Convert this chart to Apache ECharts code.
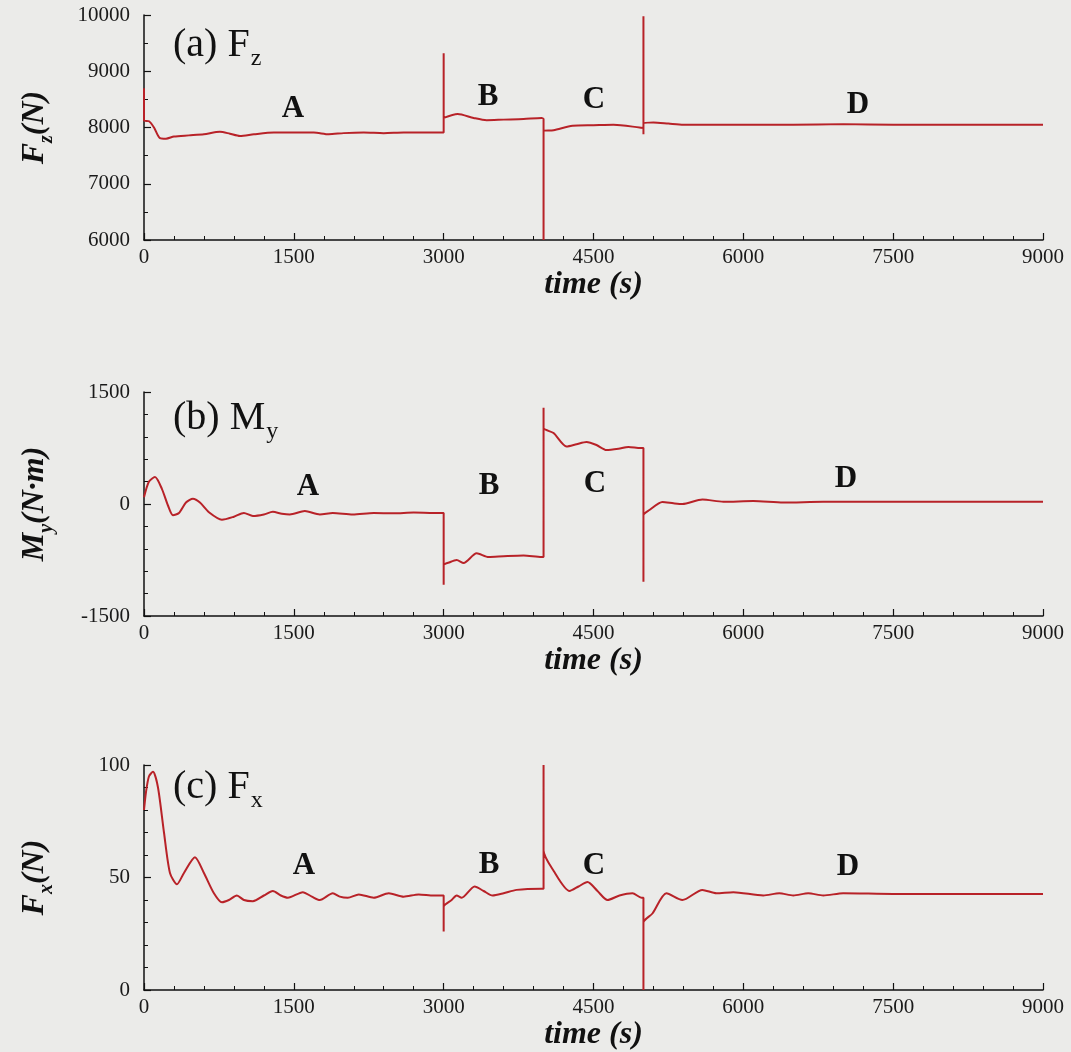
<!DOCTYPE html>
<html>
<head>
<meta charset="utf-8">
<title>Fz / My / Fx</title>
<script src="https://cdn.jsdelivr.net/npm/echarts@6/dist/echarts.min.js"></script>
<style>
html, body { margin: 0; padding: 0; background: #ebebe9; }
#chart { width: 1071px; height: 1052px; }
</style>
</head>
<body>
<div id="chart"></div>
<script>
// (a) Fz, N
const fzTime = [0, 0, 50, 100, 160, 220, 300, 450, 600, 760, 860, 960, 1100, 1300, 1500, 1700, 1850, 2000, 2200, 2400, 2600, 2800, 3000,
  3000, 3000, 3140, 3300, 3430, 3600, 3800, 3980, 4000,
  4000, 4000, 4100, 4290, 4500, 4700, 4960, 5000,
  5000, 5000, 5000, 5100, 5250, 5400, 5700, 6000, 6500, 7000, 7500, 8000, 8500, 9000]
const fzValue = [8700, 8130, 8110, 8000, 7810, 7800, 7840, 7860, 7880, 7925, 7890, 7850, 7880, 7910, 7910, 7910, 7880, 7900, 7910, 7900, 7910, 7910, 7910,
  9320, 8170, 8240, 8170, 8130, 8140, 8150, 8170, 8150,
  6000, 7940, 7950, 8030, 8040, 8050, 8000, 7990,
  9980, 7880, 8080, 8090, 8070, 8050, 8050, 8050, 8050, 8060, 8050, 8050, 8050, 8050]

// (b) My, N·m
const myTime = [0, 50, 110, 180, 240, 290, 350, 420, 490, 560, 650, 780, 900, 1000, 1090, 1200, 1290, 1380, 1460, 1610, 1760, 1890, 2090, 2300, 2500, 2700, 2900, 3000,
  3000, 3000, 3060, 3130, 3200, 3330, 3450, 3600, 3800, 3980, 4000,
  4000, 4000, 4100, 4230, 4330, 4430, 4530, 4630, 4750, 4850, 4970, 5000,
  5000, 5000, 5060, 5190, 5300, 5390, 5590, 5800, 6100, 6400, 6800, 7200, 7600, 8000, 9000]
const myValue = [90, 300, 360, 200, -20, -150, -120, 20, 70, 20, -110, -210, -170, -120, -160, -140, -105, -130, -140, -95, -140, -120, -140, -120, -125, -115, -120, -120,
  -1080, -820, -780, -750, -790, -660, -710, -700, -690, -710, -710,
  1290, 1020, 950, 770, 800, 830, 790, 723, 740, 764, 750, 750,
  -1040, -150, -80, 27, 10, 0, 60, 30, 40, 20, 30, 30, 30, 30, 30]

// (c) Fx, N
const fxTime = [0, 20, 50, 90, 140, 200, 260, 330, 400, 510, 600, 700, 780, 850, 930, 1000, 1090, 1200, 1290, 1370, 1440, 1590, 1680, 1760, 1890, 1960, 2040, 2150, 2300, 2450, 2600, 2750, 2900, 3000,
  3000, 3000, 3080, 3130, 3180, 3310, 3400, 3490, 3600, 3730, 3980, 4000,
  4000, 4000, 4100, 4260, 4350, 4440, 4540, 4640, 4760, 4890, 4980, 5000,
  5000, 5000, 5090, 5230, 5390, 5590, 5730, 5900, 6200, 6360, 6500, 6650, 6800, 7000, 7500, 8000, 9000]
const fxValue = [80, 88, 95, 97, 90, 70, 52, 47, 52, 59, 52, 43, 39, 40, 42, 40, 39.5, 42, 44, 42, 41, 43.5, 41.5, 40, 43, 41.5, 41, 42.5, 41, 43, 41.5, 42.5, 42, 42,
  26, 37, 40, 42, 41, 46, 44, 42, 43, 44.5, 45, 45,
  100, 62, 53, 44, 46, 48, 44, 40, 42, 43, 41, 41,
  0, 30, 34, 43, 40, 44.5, 43, 43.5, 42, 43, 42, 43, 42, 43, 42.7, 42.7, 42.7]

const regionNames = ['A', 'B', 'C', 'D']

const serif = 'Liberation Serif'
const lineColor = '#b82228'

function zip(xs, ys) {
  return xs.map((x, i) => [x, ys[i]])
}

// 三个子图的网格
const grids = [
  { left: 144, width: 899, top: 15, height: 225 },
  { left: 144, width: 899, top: 392, height: 224 },
  { left: 144, width: 899, top: 765, height: 225 }
]

function nameRich(size, subSize, drop) {
  return {
    i: { fontFamily: serif, fontWeight: 'bold', fontStyle: 'italic', fontSize: size, lineHeight: size + 4, verticalAlign: 'top', color: '#111' },
    s: { fontFamily: serif, fontWeight: 'bold', fontStyle: 'italic', fontSize: subSize, lineHeight: subSize, verticalAlign: 'top', padding: [drop, 0, 0, 0], color: '#111' }
  }
}

// 不要千分位
const plain = v => String(v)

function xAxis(idx) {
  return {
    type: 'value',
    gridIndex: idx,
    min: 0,
    max: 9000,
    interval: 1500,
    name: 'time (s)',
    nameLocation: 'middle',
    nameGap: 26,
    nameTextStyle: { fontFamily: serif, fontWeight: 'bold', fontStyle: 'italic', fontSize: 32, color: '#111' },
    axisLine: { onZero: false, lineStyle: { color: '#111', width: 1.5 } },
    axisTick: { inside: true, length: 7, lineStyle: { color: '#111', width: 1.2 } },
    minorTick: { show: true, splitNumber: 5, length: 4, lineStyle: { color: '#111', width: 1 } },
    axisLabel: { fontFamily: serif, fontSize: 21, color: '#1a1a1a', margin: 7, formatter: plain },
    splitLine: { show: false }
  }
}

function yAxis(idx, min, max, interval, minorSplit, name) {
  return {
    type: 'value',
    gridIndex: idx,
    min,
    max,
    interval,
    name,
    nameLocation: 'middle',
    nameRotate: 90,
    nameGap: 89,
    nameTextStyle: { rich: nameRich(32, 20, 18) },
    axisLine: { show: true, onZero: false, lineStyle: { color: '#111', width: 1.5 } },
    axisTick: { inside: true, length: 7, lineStyle: { color: '#111', width: 1.2 } },
    minorTick: { show: true, splitNumber: minorSplit, length: 4, lineStyle: { color: '#111', width: 1 } },
    axisLabel: { fontFamily: serif, fontSize: 21, color: '#1a1a1a', margin: 14, formatter: plain },
    splitLine: { show: false }
  }
}

function seriesOf(idx, xs, ys) {
  return {
    type: 'line',
    xAxisIndex: idx,
    yAxisIndex: idx,
    data: zip(xs, ys),
    showSymbol: false,
    smooth: 0.25,
    lineStyle: { color: lineColor, width: 2 },
    animation: false
  }
}

function panelTitle(letter, main, sub, top) {
  return {
    left: 168,
    top,
    text: '{m|(' + letter + ') ' + main + '}{s|' + sub + '}',
    textStyle: {
      fontWeight: 'normal',
      rich: {
        m: { fontFamily: serif, fontWeight: 'normal', fontSize: 40, lineHeight: 44, verticalAlign: 'top', color: '#111' },
        s: { fontFamily: serif, fontWeight: 'normal', fontSize: 24, lineHeight: 24, verticalAlign: 'top', padding: [22, 0, 0, 1], color: '#111' }
      }
    }
  }
}

// 区段字母 A-D 的位置 (像素)
const letterCenters = [
  [[293, 109], [488, 97], [594, 100], [858, 105]],
  [[308, 487], [489, 486], [595, 484], [846, 479]],
  [[304, 866], [489, 865], [594, 866], [848, 867]]
]

const graphic = []
letterCenters.forEach(panel => {
  panel.forEach((c, i) => {
    graphic.push({
      type: 'text',
      x: c[0],
      y: c[1],
      silent: true,
      style: {
        text: regionNames[i],
        font: 'bold 31px "' + serif + '"',
        fill: '#111',
        align: 'center',
        verticalAlign: 'middle'
      }
    })
  })
})

const chart = echarts.init(document.getElementById('chart'))
chart.setOption({
  backgroundColor: '#ebebe9',
  animation: false,
  title: [
    panelTitle('a', 'F', 'z', 20),
    panelTitle('b', 'M', 'y', 393),
    panelTitle('c', 'F', 'x', 762)
  ],
  grid: grids,
  xAxis: [xAxis(0), xAxis(1), xAxis(2)],
  yAxis: [
    yAxis(0, 6000, 10000, 1000, 2, '{i|F}{s|z}{i|(N)}'),
    yAxis(1, -1500, 1500, 1500, 5, '{i|M}{s|y}{i|(N·m)}'),
    yAxis(2, 0, 100, 50, 5, '{i|F}{s|x}{i|(N)}')
  ],
  series: [
    seriesOf(0, fzTime, fzValue),
    seriesOf(1, myTime, myValue),
    seriesOf(2, fxTime, fxValue)
  ],
  graphic
})
</script>
</body>
</html>
